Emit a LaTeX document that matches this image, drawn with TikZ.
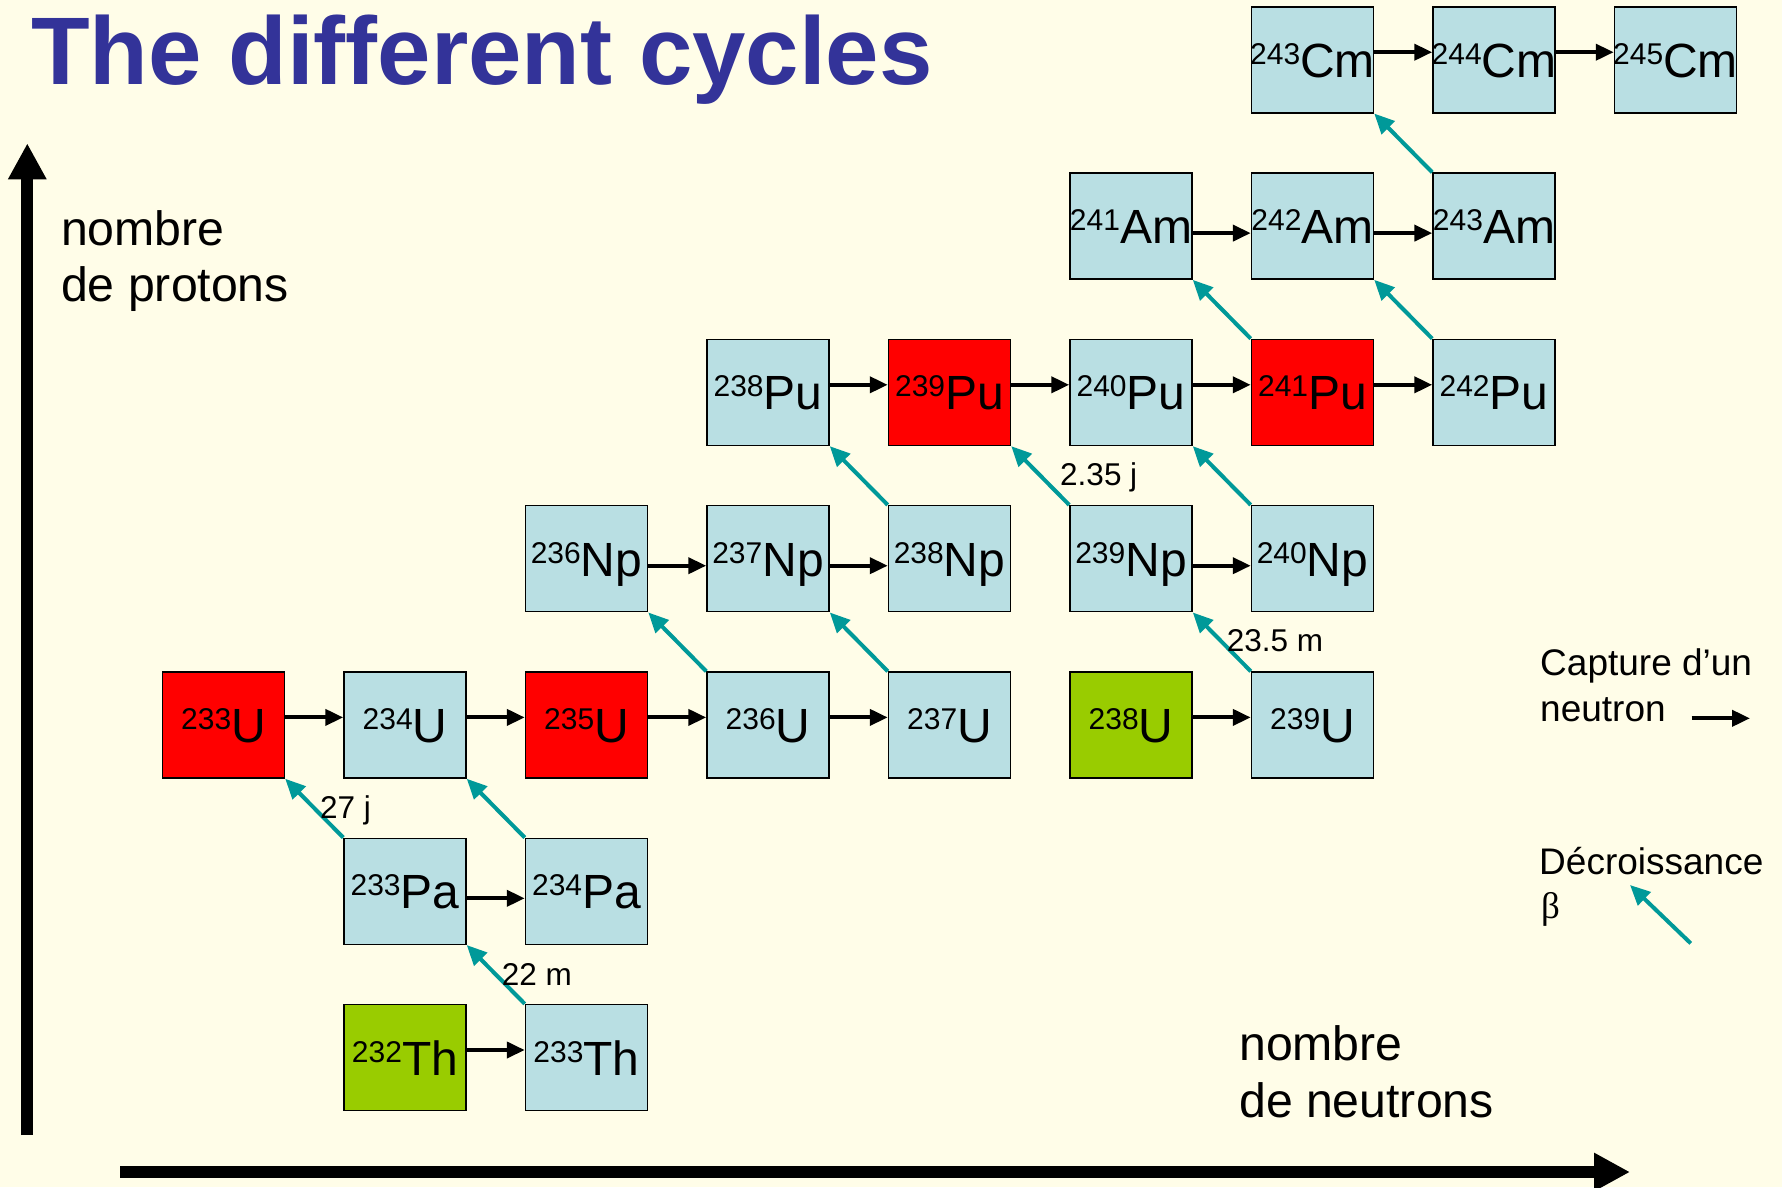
\documentclass[tikz,border=0pt]{standalone}
\usepackage{fontspec}
\setmainfont{Liberation Sans}
\newfontfamily\greekserif{Liberation Serif}
\usetikzlibrary{arrows.meta}

\definecolor{pagebg}{HTML}{FFFDE8}
\definecolor{nuclide}{HTML}{B9DFE3}
\definecolor{fissile}{HTML}{FF0000}
\definecolor{fertile}{HTML}{99CC00}
\definecolor{betacol}{HTML}{009999}
\definecolor{titleblue}{HTML}{333399}

% isotope label: mass number as a raised index before the symbol;
% zero-width so a long label may run past the box edges
\newcommand{\nuc}[2]{\makebox[0pt]{{\fontsize{30}{30}\selectfont\raisebox{12.9pt}{#1}}{\fontsize{48}{48}\selectfont #2}}}

\begin{document}
\begin{tikzpicture}[x=1pt,y=-1pt,
  isobox/.style={draw=black, line width=1.5pt, fill=nuclide,
    minimum width=122pt, minimum height=106pt, inner sep=0pt,
    text height=34.8pt, text depth=0pt},
  fissbox/.style={isobox, fill=fissile},
  fertbox/.style={isobox, fill=fertile},
  capture/.style={line width=4pt, -{Triangle[length=18pt,width=16pt]}},
  beta/.style={draw=betacol, line width=4pt, -{Triangle[length=20pt,width=18pt]}},
  axis/.style={line width=12pt, -{Triangle[length=36pt,width=36pt]}},
  halflife/.style={anchor=base west, inner sep=0pt, font=\fontsize{31.5}{31.5}\selectfont},
  axislabel/.style={anchor=base west, inner sep=0pt, font=\fontsize{48.2}{48.2}\selectfont},
  legendtext/.style={anchor=base west, inner sep=0pt, font=\fontsize{37}{37}\selectfont},
  up/.style={yshift=7.6pt},
  down/.style={yshift=-7pt}
]
% page
\fill[pagebg] (0,0) rectangle (1782,1187);
\useasboundingbox (0,0) rectangle (1782,1187);

% title
\node[anchor=base west, inner sep=0pt, text=titleblue,
      font=\bfseries\fontsize{96}{96}\selectfont] (title) at (31,84.3) {The different cycles};

% axes
\coordinate (ybot) at (27.3,1135);
\coordinate (ytop) at (27.3,143.3);
\coordinate (xleft) at (120,1172);
\coordinate (xright) at (1630,1172);
\draw[axis] (ybot) -- (ytop);
\draw[axis] (xleft) -- (xright);
\node[axislabel] (plab1) at (61,245) {nombre};
\node[axislabel] (plab2) at (61,301.7) {de protons};
\node[axislabel] (nlab1) at (1239,1060) {nombre};
\node[axislabel] (nlab2) at (1239,1117.3) {de neutrons};

% row 0 : curium
\node[isobox] (Cm243) at (1312.5,59.8) {\nuc{243}{Cm}};
\node[isobox] (Cm244) at (1494,59.8) {\nuc{244}{Cm}};
\node[isobox] (Cm245) at (1675.5,59.8) {\nuc{245}{Cm}};
% row 1 : americium
\node[isobox] (Am241) at (1131,226.1) {\nuc{241}{Am}};
\node[isobox] (Am242) at (1312.5,226.1) {\nuc{242}{Am}};
\node[isobox] (Am243) at (1494,226.1) {\nuc{243}{Am}};
% row 2 : plutonium
\node[isobox]  (Pu238) at (768,392.4) {\nuc{238}{Pu}};
\node[fissbox] (Pu239) at (949.5,392.4) {\nuc{239}{Pu}};
\node[isobox]  (Pu240) at (1131,392.4) {\nuc{240}{Pu}};
\node[fissbox] (Pu241) at (1312.5,392.4) {\nuc{241}{Pu}};
\node[isobox]  (Pu242) at (1494,392.4) {\nuc{242}{Pu}};
% row 3 : neptunium
\node[isobox] (Np236) at (586.5,558.7) {\nuc{236}{Np}};
\node[isobox] (Np237) at (768,558.7) {\nuc{237}{Np}};
\node[isobox] (Np238) at (949.5,558.7) {\nuc{238}{Np}};
\node[isobox] (Np239) at (1131,558.7) {\nuc{239}{Np}};
\node[isobox] (Np240) at (1312.5,558.7) {\nuc{240}{Np}};
% row 4 : uranium
\node[fissbox] (U233) at (223.5,725) {\nuc{233}{U}};
\node[isobox]  (U234) at (405,725) {\nuc{234}{U}};
\node[fissbox] (U235) at (586.5,725) {\nuc{235}{U}};
\node[isobox]  (U236) at (768,725) {\nuc{236}{U}};
\node[isobox]  (U237) at (949.5,725) {\nuc{237}{U}};
\node[fertbox] (U238) at (1131,725) {\nuc{238}{U}};
\node[isobox]  (U239) at (1312.5,725) {\nuc{239}{U}};
% row 5 : protactinium
\node[isobox] (Pa233) at (405,891.3) {\nuc{233}{Pa}};
\node[isobox] (Pa234) at (586.5,891.3) {\nuc{234}{Pa}};
% row 6 : thorium
\node[fertbox] (Th232) at (405,1057.6) {\nuc{232}{Th}};
\node[isobox]  (Th233) at (586.5,1057.6) {\nuc{233}{Th}};

% neutron captures
\draw[capture] ([up]Cm243.east) -- ([up]Cm244.west);
\draw[capture] ([up]Cm244.east) -- ([up]Cm245.west);
\draw[capture] ([down]Am241.east) -- ([down]Am242.west);
\draw[capture] ([down]Am242.east) -- ([down]Am243.west);
\draw[capture] ([up]Pu238.east) -- ([up]Pu239.west);
\draw[capture] ([up]Pu239.east) -- ([up]Pu240.west);
\draw[capture] ([up]Pu240.east) -- ([up]Pu241.west);
\draw[capture] ([up]Pu241.east) -- ([up]Pu242.west);
\draw[capture] ([down]Np236.east) -- ([down]Np237.west);
\draw[capture] ([down]Np237.east) -- ([down]Np238.west);
\draw[capture] ([down]Np239.east) -- ([down]Np240.west);
\draw[capture] ([up]U233.east) -- ([up]U234.west);
\draw[capture] ([up]U234.east) -- ([up]U235.west);
\draw[capture] ([up]U235.east) -- ([up]U236.west);
\draw[capture] ([up]U236.east) -- ([up]U237.west);
\draw[capture] ([up]U238.east) -- ([up]U239.west);
\draw[capture] ([down]Pa233.east) -- ([down]Pa234.west);
\draw[capture] ([up]Th232.east) -- ([up]Th233.west);

% beta decays
\draw[beta] (Th233.north west) -- (Pa233.south east);
\draw[beta] (Pa233.north west) -- (U233.south east);
\draw[beta] (Pa234.north west) -- (U234.south east);
\draw[beta] (U236.north west) -- (Np236.south east);
\draw[beta] (U237.north west) -- (Np237.south east);
\draw[beta] (U239.north west) -- (Np239.south east);
\draw[beta] (Np238.north west) -- (Pu238.south east);
\draw[beta] (Np239.north west) -- (Pu239.south east);
\draw[beta] (Np240.north west) -- (Pu240.south east);
\draw[beta] (Pu241.north west) -- (Am241.south east);
\draw[beta] (Pu242.north west) -- (Am242.south east);
\draw[beta] (Am243.north west) -- (Cm243.south east);

% half-lives
\node[halflife] (t27j) at (320,818) {27 j};
\node[halflife] (t22m) at (501.7,985) {22 m};
\node[halflife] (t235j) at (1060,485) {2.35 j};
\node[halflife] (t235m) at (1226.7,651.7) {23.5 m};

% legend
\node[legendtext] (leg1) at (1540,675) {Capture d’un};
\node[legendtext] (leg2) at (1540,721.7) {neutron};
\coordinate (lcapA) at (1691.7,718.3);
\coordinate (lcapB) at (1750,718.3);
\draw[capture] (lcapA) -- (lcapB);
\node[legendtext] (leg3) at (1539,874) {Décroissance};
\node[legendtext] (leg4) at (1541,918) {\greekserif β};
\coordinate (lbetaA) at (1690.7,943.3);
\coordinate (lbetaB) at (1630,885);
\draw[beta] (lbetaA) -- (lbetaB);
\end{tikzpicture}
\end{document}
